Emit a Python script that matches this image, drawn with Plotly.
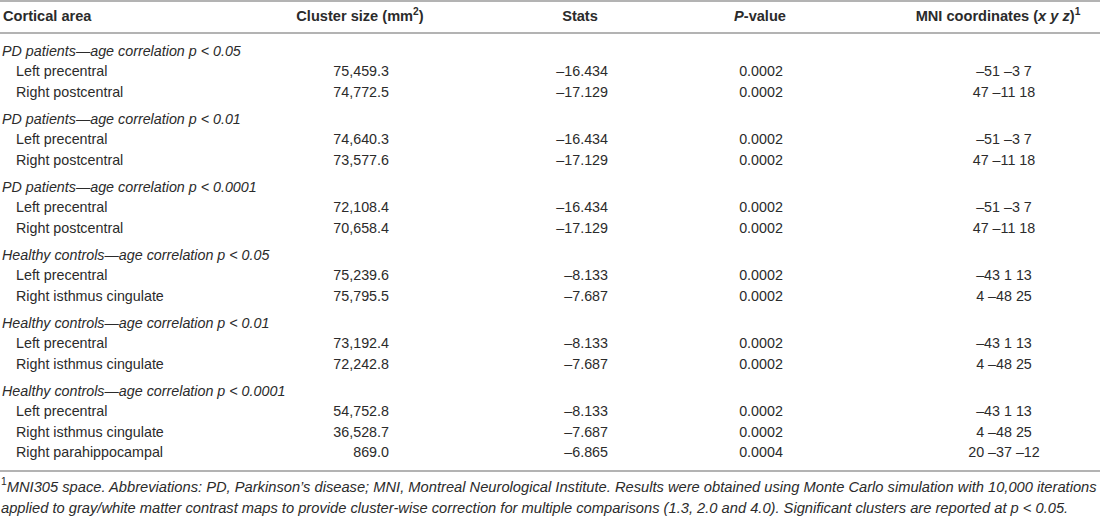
import plotly.graph_objects as go

# ---- data ----
group_titles = [
    "PD patients—age correlation p &lt; 0.05",
    "PD patients—age correlation p &lt; 0.01",
    "PD patients—age correlation p &lt; 0.0001",
    "Healthy controls—age correlation p &lt; 0.05",
    "Healthy controls—age correlation p &lt; 0.01",
    "Healthy controls—age correlation p &lt; 0.0001",
]
row_group = [0, 0, 1, 1, 2, 2, 3, 3, 4, 4, 5, 5, 5]
cortical_area = [
    "Left precentral", "Right postcentral",
    "Left precentral", "Right postcentral",
    "Left precentral", "Right postcentral",
    "Left precentral", "Right isthmus cingulate",
    "Left precentral", "Right isthmus cingulate",
    "Left precentral", "Right isthmus cingulate", "Right parahippocampal",
]
cluster_size = [75459.3, 74772.5, 74640.3, 73577.6, 72108.4, 70658.4,
                75239.6, 75795.5, 73192.4, 72242.8, 54752.8, 36528.7, 869.0]
stats = [-16.434, -17.129, -16.434, -17.129, -16.434, -17.129,
         -8.133, -7.687, -8.133, -7.687, -8.133, -7.687, -6.865]
p_value = [0.0002, 0.0002, 0.0002, 0.0002, 0.0002, 0.0002,
           0.0002, 0.0002, 0.0002, 0.0002, 0.0002, 0.0002, 0.0004]
mni_x = [-51, 47, -51, 47, -51, 47, -43, 4, -43, 4, -43, 4, 20]
mni_y = [-3, -11, -3, -11, -3, -11, 1, -48, 1, -48, 1, -48, -37]
mni_z = [7, 18, 7, 18, 7, 18, 13, 25, 13, 25, 13, 25, -12]
column_headers = ["Cortical area", "Cluster size (mm<sup>2</sup>)", "Stats",
                  "<i>P</i>-value", "MNI coordinates (<i>x y z</i>)<sup>1</sup>"]
footnote_lines = [
    "<sup>1</sup><i>MNI305 space. Abbreviations: PD, Parkinson’s disease; MNI, Montreal Neurological Institute. "
    "Results were obtained using Monte Carlo simulation with 10,000 iterations</i>",
    "<i>applied to gray/white matter contrast maps to provide cluster-wise correction for multiple comparisons "
    "(1.3, 2.0 and 4.0). Significant clusters are reported at p &lt; 0.05.</i>",
]

# ---- formatting helpers ----
MINUS = "\u2013"


def fmt_num(v, spec):
    s = format(v, spec)
    return s.replace("-", MINUS)


def fmt_mni(a, b, c):
    return " ".join(fmt_num(v, "d") for v in (a, b, c))


# ---- layout geometry ----
W, H = 1100, 519
FONT = "Liberation Sans, Arial, sans-serif"
TXT = "#2b2b2b"
LINE = "#9a9a9a"
HEADER_Y = 17
GROUP_Y0 = 52
GROUP_STEP = 68
ROW_OFF = 20.5
ROW_STEP = 20.7

group_y = [GROUP_Y0 + GROUP_STEP * g for g in range(len(group_titles))]
row_y = []
counter = {}
for g in row_group:
    k = counter.get(g, 0)
    row_y.append(group_y[g] + ROW_OFF + ROW_STEP * k)
    counter[g] = k + 1

fig = go.Figure()
fs = 14.3


def text_trace(xs, ys, texts, pos, size=fs):
    fig.add_trace(go.Scatter(
        x=xs, y=ys, text=texts, mode="text", textposition=pos,
        textfont=dict(family=FONT, size=size, color=TXT),
        hoverinfo="skip", showlegend=False, cliponaxis=False))


n = len(cortical_area)
# group titles
text_trace([2] * len(group_titles), group_y, [f"<i>{t}</i>" for t in group_titles], "middle right")
# columns
text_trace([16] * n, row_y, cortical_area, "middle right")
text_trace([389] * n, row_y, [fmt_num(v, ",.1f") for v in cluster_size], "middle left")
text_trace([608] * n, row_y, [fmt_num(v, ".3f") for v in stats], "middle left")
text_trace([761] * n, row_y, [fmt_num(v, ".4f") for v in p_value], "middle center")
text_trace([1004] * n, row_y, [fmt_mni(a, b, c) for a, b, c in zip(mni_x, mni_y, mni_z)], "middle center")

# headers
hdr_x = [3, 360, 580, 760, 998]
hdr_pos = ["middle right", "middle center", "middle center", "middle center", "middle center"]
for x, t, p in zip(hdr_x, column_headers, hdr_pos):
    text_trace([x], [HEADER_Y], [f"<b>{t}</b>"], p, size=14.6)

# footnote
foot_y = [488, 509]
text_trace([1, 1], foot_y, footnote_lines, "middle right", size=14.7)

# rules
for y in [1, 33, 471]:
    fig.add_shape(type="line", x0=0, x1=W, y0=y, y1=y, xref="x", yref="y",
                  line=dict(color=LINE, width=1.5))

fig.update_layout(
    width=W, height=H, margin=dict(l=0, r=0, t=0, b=0),
    paper_bgcolor="white", plot_bgcolor="white",
    xaxis=dict(range=[0, W], visible=False, fixedrange=True),
    yaxis=dict(range=[H, 0], visible=False, fixedrange=True),
    font=dict(family=FONT, color=TXT),
)
fig.write_html("out.html", config={"displayModeBar": False},
               post_script="document.body.style.margin='0';document.body.style.overflow='hidden';")
